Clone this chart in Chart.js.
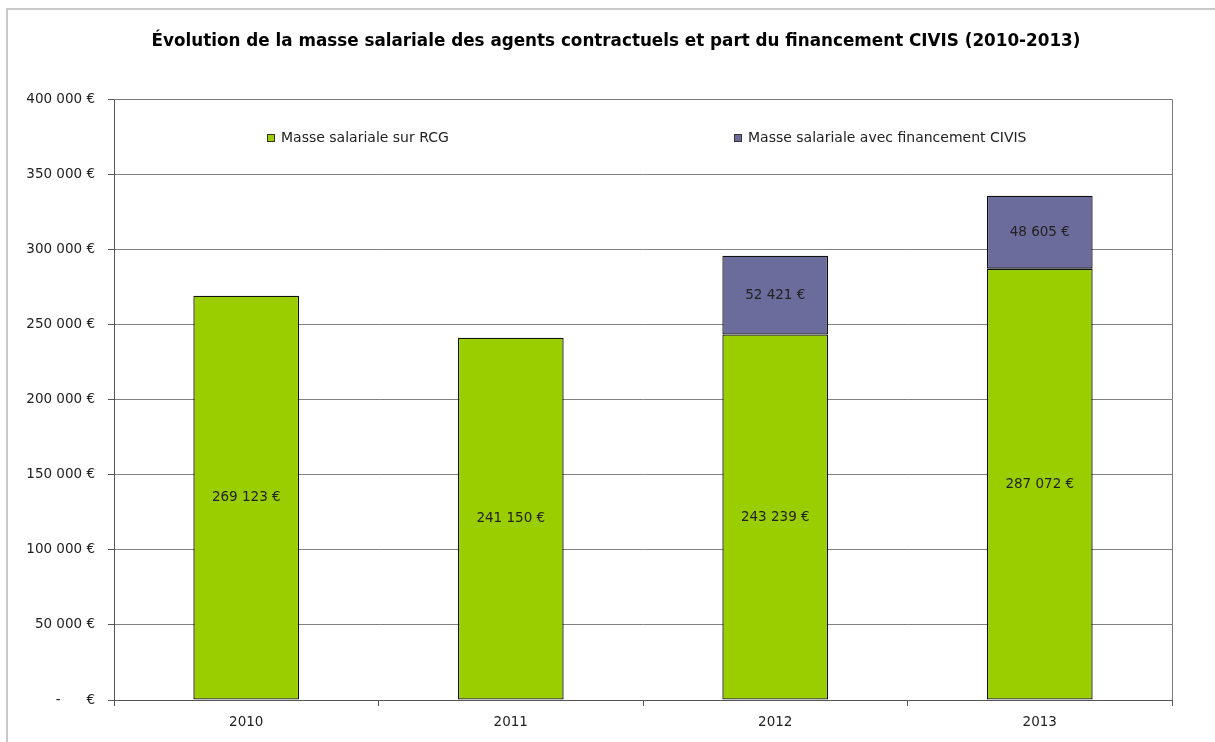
<!DOCTYPE html>
<html lang="fr">
<head>
<meta charset="utf-8">
<title>Masse salariale 2010-2013</title>
<script src="https://cdn.jsdelivr.net/npm/chart.js@4.4.1/dist/chart.umd.min.js"></script>
<style>
    body { margin: 0; background: #fff; }
    #cadre { position: absolute; left: 6px; top: 8px; width: 1300px; height: 800px;
             border-left: 2px solid #c8c8c8; border-top: 2px solid #c8c8c8; }
    #zone { position: absolute; left: 0; top: 0; width: 1215px; height: 742px; }
</style>
</head>
<body>
<div id="cadre"></div>
<div id="zone"><canvas id="graficoMasse" width="1215" height="742"></canvas></div>
<script>
// Données
const annees = ['2010', '2011', '2012', '2013'];
const masseRCG = [269123, 241150, 243239, 287072];
const masseCIVIS = [null, null, 52421, 48605];
const ticksY = [0, 50000, 100000, 150000, 200000, 250000, 300000, 350000, 400000];
const titre = 'Évolution de la masse salariale des agents contractuels et part du financement CIVIS (2010-2013)';

const police = '"DejaVu Sans", "Liberation Sans", Arial, sans-serif';

// 269123 -> "269 123 €"
function formatEuro(v) {
    return String(v).replace(/\B(?=(\d{3})+(?!\d))/g, ' ') + ' €';
}

// Titre centré sur la page (pas sur la zone de tracé)
const titrePage = {
    id: 'titrePage',
    afterDraw(chart) {
        const { ctx } = chart;
        ctx.save();
        ctx.font = 'bold 16.8px ' + police;
        ctx.fillStyle = '#000';
        ctx.textAlign = 'center';
        ctx.textBaseline = 'middle';
        ctx.fillText(titre, 616, 42);
        ctx.restore();
    }
};

// Cadre de la zone de tracé (haut et droite)
const cadrePlot = {
    id: 'cadrePlot',
    beforeDatasetsDraw(chart) {
        const { ctx, chartArea: a } = chart;
        ctx.save();
        ctx.strokeStyle = '#7a7a7a';
        ctx.lineWidth = 1;
        ctx.beginPath();
        ctx.moveTo(a.left, a.top + 0.5);
        ctx.lineTo(a.right + 0.5, a.top + 0.5);
        ctx.lineTo(a.right + 0.5, a.bottom);
        ctx.stroke();
        ctx.restore();
    }
};

// Légende dans la zone de tracé
const legendeInterne = {
    id: 'legendeInterne',
    afterDraw(chart) {
        const { ctx, chartArea: a } = chart;
        const positions = [a.left + 153, a.left + 620];
        const y = a.top + 39;
        ctx.save();
        ctx.font = '14px ' + police;
        ctx.textBaseline = 'middle';
        chart.data.datasets.forEach((ds, i) => {
            const x = positions[i];
            ctx.fillStyle = ds.backgroundColor;
            ctx.fillRect(x, y - 4, 8, 8);
            ctx.strokeStyle = '#333';
            ctx.lineWidth = 1;
            ctx.strokeRect(x + 0.5, y - 3.5, 7, 7);
            ctx.fillStyle = '#222';
            ctx.fillText(ds.label, x + 14, y);
        });
        ctx.restore();
    }
};

// Valeurs au centre des barres
const etiquettes = {
    id: 'etiquettes',
    afterDatasetsDraw(chart) {
        const { ctx } = chart;
        ctx.save();
        ctx.font = '13.5px ' + police;
        ctx.fillStyle = '#222';
        ctx.textAlign = 'center';
        ctx.textBaseline = 'middle';
        chart.data.datasets.forEach((ds, i) => {
            chart.getDatasetMeta(i).data.forEach((bar, j) => {
                const v = ds.data[j];
                if (!v) return;
                const milieu = (bar.y + bar.base) / 2;
                ctx.fillText(formatEuro(v), bar.x, milieu);
            });
        });
        ctx.restore();
    }
};

const ctxMasse = document.getElementById('graficoMasse').getContext('2d');
new Chart(ctxMasse, {
    type: 'bar',
    data: {
        labels: annees,
        datasets: [{
            label: 'Masse salariale sur RCG',
            data: masseRCG,
            backgroundColor: '#9bce00',
            borderColor: '#111',
            borderWidth: 1.3,
        }, {
            label: 'Masse salariale avec financement CIVIS',
            data: masseCIVIS,
            backgroundColor: '#6b6b9c',
            borderColor: '#111',
            borderWidth: 1.3,
        }],
    },
    options: {
        responsive: false,
        animation: false,
        datasets: {
            bar: { categoryPercentage: 1, barPercentage: 0.4, borderSkipped: false, inflateAmount: 0 },
        },
        layout: { padding: { left: 0, right: 43, top: 99, bottom: 0 } },
        plugins: {
            legend: { display: false },
            tooltip: { enabled: false },
            title: { display: false },
        },
        scales: {
            x: {
                stacked: true,
                grid: { offset: true, drawOnChartArea: false, drawTicks: true, tickLength: 6, color: '#555' },
                border: { color: '#555', width: 1 },
                ticks: { color: '#222', font: { family: police, size: 13.5 }, padding: 8 },
                afterFit: (scale) => { scale.height = 42; },
            },
            y: {
                stacked: true,
                min: 0,
                max: 400000,
                afterBuildTicks: (scale) => { scale.ticks = ticksY.map((v) => ({ value: v })); },
                grid: { color: '#808080', tickLength: 6, tickColor: '#555' },
                border: { color: '#555', width: 1 },
                ticks: {
                    color: '#222',
                    font: { family: police, size: 13.5 },
                    padding: 13,
                    callback: (v) => (v === 0 ? '-      €' : formatEuro(v)),
                },
                afterFit: (scale) => { scale.width = 114; },
            },
        },
    },
    plugins: [cadrePlot, legendeInterne, etiquettes, titrePage],
});
</script>
</body>
</html>
